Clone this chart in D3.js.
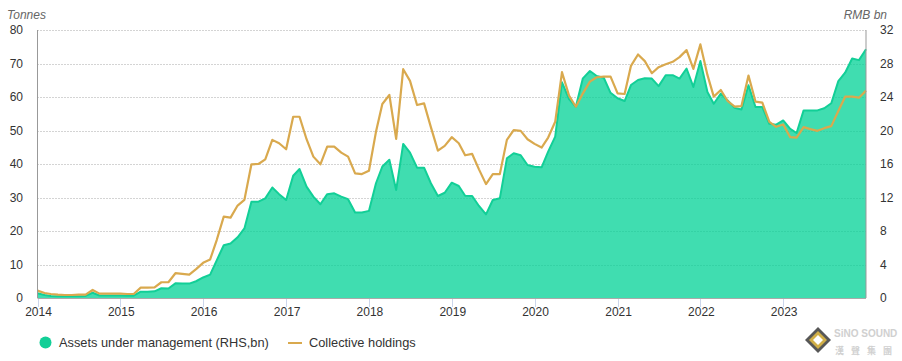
<!DOCTYPE html>
<html>
<head>
<meta charset="utf-8">
<script src="https://cdn.jsdelivr.net/npm/d3@7"></script>
<style>
  body { margin: 0; background: #fff; }
  text { font-family: "Liberation Sans", Arial, sans-serif; }
</style>
</head>
<body>
<svg id="chart_svg" width="902" height="361"></svg>
<script>
// monthly points, Jan 2014 .. Jan 2024
var startYear = 2014, startMonth = 0
var yearTicks = [2014, 2015, 2016, 2017, 2018, 2019, 2020, 2021, 2022, 2023]
var leftTicks = [0, 10, 20, 30, 40, 50, 60, 70, 80]
var rightTicks = [0, 4, 8, 12, 16, 20, 24, 28, 32]

// Collective holdings, tonnes (left axis)
var holdings = [2.2, 1.5, 1.2, 1.0, 0.9, 0.9, 1.0, 1.0, 2.4, 1.3, 1.3, 1.3,
  1.3, 1.2, 1.2, 3.1, 3.1, 3.2, 4.7, 4.7, 7.4, 7.2, 7.0, 8.6,
  10.5, 11.5, 17.3, 24.3, 24.0, 27.6, 29.3, 39.9, 40.0, 41.4, 47.2, 46.2,
  44.4, 54.1, 54.1, 47.4, 42.2, 39.9, 45.2, 45.2, 43.4, 42.2, 37.2, 37.0,
  38.0, 49.6, 57.9, 60.6, 47.5, 68.3, 64.8, 57.6, 58.1, 51.0, 44.0, 45.4,
  48.0, 46.2, 42.6, 43.0, 38.4, 34.0, 37.0, 37.0, 47.2, 50.1, 49.9, 47.4,
  46.0, 44.9, 47.9, 52.6, 67.4, 60.4, 57.1, 61.1, 64.6, 65.9, 66.1, 66.1,
  61.1, 60.9, 69.3, 72.7, 70.7, 67.1, 68.9, 69.8, 70.5, 71.9, 74.0, 68.4,
  75.7, 66.6, 60.1, 62.1, 58.8, 57.1, 57.3, 66.4, 58.6, 58.3, 52.6, 51.1,
  51.8, 48.0, 47.9, 51.0, 50.4, 49.9, 50.7, 51.3, 55.8, 60.1, 60.1, 59.8,
  61.9]

// Assets under management, RMB bn (right axis)
var assets = [0.56, 0.35, 0.25, 0.22, 0.2, 0.2, 0.22, 0.25, 0.63, 0.3, 0.3, 0.3,
  0.3, 0.28, 0.28, 0.75, 0.75, 0.8, 1.16, 1.13, 1.75, 1.72, 1.72, 2.0,
  2.45, 2.8, 4.5, 6.3, 6.5, 7.25, 8.3, 11.5, 11.5, 11.9, 13.2, 12.4,
  11.7, 14.6, 15.4, 13.3, 12.1, 11.2, 12.4, 12.5, 12.1, 11.8, 10.2, 10.2,
  10.4, 13.7, 15.7, 16.5, 12.9, 18.4, 17.35, 15.56, 15.56, 13.7, 12.18, 12.57,
  13.77, 13.37, 12.2, 12.18, 10.99, 9.99, 11.7, 11.9, 16.68, 17.28, 17.04, 15.88,
  15.68, 15.6, 17.47, 19.26, 25.75, 23.76, 22.84, 26.23, 27.1, 26.5, 26.3, 24.5,
  23.85, 23.52, 25.43, 26.03, 26.23, 26.2, 25.3, 26.6, 26.6, 26.2, 27.4, 25.2,
  28.3, 24.6, 23.2, 24.4, 23.6, 22.7, 22.5, 25.4, 22.8, 22.8, 20.8, 20.7,
  21.2, 20.2, 19.7, 22.4, 22.4, 22.4, 22.65, 23.25, 25.9, 26.9, 28.6, 28.4,
  29.7]

var svg, x, yL, yR, plotLeft, plotRight, plotTop, plotBottom

document.addEventListener('DOMContentLoaded', function()
{
    svg = d3.select("#chart_svg")
    plotLeft = 37.5; plotRight = 866; plotTop = 30; plotBottom = 298

    x = d3.scaleUtc()
        .domain([new Date(Date.UTC(2014, 0, 1)), new Date(Date.UTC(2024, 0, 1))])
        .range([plotLeft, plotRight])
    yL = d3.scaleLinear().domain([0, 80]).range([plotBottom, plotTop])
    yR = d3.scaleLinear().domain([0, 32]).range([plotBottom, plotTop])

    DrawGrid()
    DrawSeries()
    DrawAxes()
    DrawLegend()
    DrawLogo()
})

function monthDate(i)
{
    return new Date(Date.UTC(startYear, startMonth + i, 1))
}

function DrawGrid()
{
    svg.selectAll(".grid")
        .data(leftTicks.slice(1))
        .join("line")
        .attr("class", "grid")
        .attr("x1", plotLeft).attr("x2", plotRight)
        .attr("y1", d => Math.round(yL(d)) + 0.5)
        .attr("y2", d => Math.round(yL(d)) + 0.5)
        .attr("stroke", "#a8a8a8")
        .attr("stroke-width", 1)
        .style("stroke-dasharray", "1,2")
}

function DrawSeries()
{
    var area = d3.area()
        .x((d, i) => x(monthDate(i)))
        .y0(yR(0))
        .y1(d => yR(d))
    var aline = d3.line()
        .x((d, i) => x(monthDate(i)))
        .y(d => yR(d))
    var hline = d3.line()
        .x((d, i) => x(monthDate(i)))
        .y(d => yL(d))

    svg.append("path")
        .datum(assets)
        .attr("d", area)
        .attr("fill", "#00d296")
        .attr("fill-opacity", 0.75)

    svg.append("path")
        .datum(assets)
        .attr("d", aline)
        .attr("fill", "none")
        .attr("stroke", "#12cf97")
        .attr("stroke-width", 2)
        .attr("stroke-linejoin", "round")

    svg.append("path")
        .datum(holdings)
        .attr("d", hline)
        .attr("fill", "none")
        .attr("stroke", "#d9a94e")
        .attr("stroke-width", 2.2)
        .attr("stroke-linejoin", "round")
}

function DrawAxes()
{
    // axis lines
    svg.append("line").attr("x1", plotLeft).attr("x2", plotLeft).attr("y1", plotTop).attr("y2", plotBottom)
        .attr("stroke", "#999").attr("stroke-width", 1)
    svg.append("line").attr("x1", plotRight).attr("x2", plotRight).attr("y1", plotTop).attr("y2", plotBottom)
        .attr("stroke", "#999").attr("stroke-width", 1)
    svg.append("line").attr("x1", plotLeft).attr("x2", plotRight).attr("y1", plotBottom + 0.5).attr("y2", plotBottom + 0.5)
        .attr("stroke", "#aaa").attr("stroke-width", 1)

    svg.selectAll(".xtick")
        .data(yearTicks)
        .join("line")
        .attr("class", "xtick")
        .attr("x1", d => Math.round(x(new Date(Date.UTC(d, 0, 1)))) + 0.5)
        .attr("x2", d => Math.round(x(new Date(Date.UTC(d, 0, 1)))) + 0.5)
        .attr("y1", plotBottom + 1).attr("y2", plotBottom + 9)
        .attr("stroke", "#ccd6eb")

    svg.selectAll(".xlabel")
        .data(yearTicks)
        .join("text")
        .attr("class", "xlabel")
        .attr("text-anchor", "middle")
        .attr("x", d => x(new Date(Date.UTC(d, 0, 1))) + 1)
        .attr("y", 316)
        .attr("fill", "#333")
        .style("font-size", "12px")
        .text(d => d)

    svg.selectAll(".ylabel")
        .data(leftTicks)
        .join("text")
        .attr("class", "ylabel")
        .attr("text-anchor", "end")
        .attr("x", 23)
        .attr("y", d => yL(d) + 4)
        .attr("fill", "#333")
        .style("font-size", "12px")
        .text(d => d)

    svg.selectAll(".rlabel")
        .data(rightTicks)
        .join("text")
        .attr("class", "rlabel")
        .attr("text-anchor", "start")
        .attr("x", 880)
        .attr("y", d => yR(d) + 4)
        .attr("fill", "#333")
        .style("font-size", "12px")
        .text(d => d)

    svg.append("text")
        .attr("x", 7).attr("y", 19)
        .attr("fill", "#666")
        .style("font-size", "12px")
        .style("font-style", "italic")
        .text("Tonnes")

    svg.append("text")
        .attr("x", 887).attr("y", 19)
        .attr("text-anchor", "end")
        .attr("fill", "#666")
        .style("font-size", "12px")
        .style("font-style", "italic")
        .text("RMB bn")
}

function DrawLegend()
{
    svg.append("circle")
        .attr("cx", 45.5).attr("cy", 342.5).attr("r", 6)
        .attr("fill", "#12cf97")
    svg.append("text")
        .attr("x", 59).attr("y", 347)
        .attr("fill", "#333")
        .style("font-size", "12.8px")
        .text("Assets under management (RHS,bn)")

    svg.append("line")
        .attr("x1", 288).attr("x2", 302).attr("y1", 343).attr("y2", 343)
        .attr("stroke", "#d9a94e").attr("stroke-width", 2)
    svg.append("text")
        .attr("x", 309).attr("y", 347)
        .attr("fill", "#333")
        .style("font-size", "12.8px")
        .text("Collective holdings")
}

function DrawLogo()
{
    // watermark in the corner
    var g = svg.append("g").attr("opacity", 0.85)
    g.append("path")
        .attr("d", "M818,327 L831,340 L818,353 L805,340 Z")
        .attr("fill", "#3a3a3a")
    g.append("path")
        .attr("d", "M818,331 L827,340 L818,349 L809,340 Z")
        .attr("fill", "#c9a227")
    g.append("path")
        .attr("d", "M818,335 L823,340 L818,345 L813,340 Z")
        .attr("fill", "#fff")
    g.append("text")
        .attr("x", 834).attr("y", 337)
        .attr("fill", "#c8c8c8")
        .style("font-size", "10px")
        .style("font-weight", "bold")
        .text("SiNO SOUND")
    g.append("text")
        .attr("x", 835).attr("y", 354)
        .attr("fill", "#c8c8c8")
        .style("font-family", "'Noto Sans CJK TC'")
        .style("font-size", "9px")
        .style("font-weight", "bold")
        .style("letter-spacing", "7px")
        .text("漢聲集團")
}
</script>
</body>
</html>
